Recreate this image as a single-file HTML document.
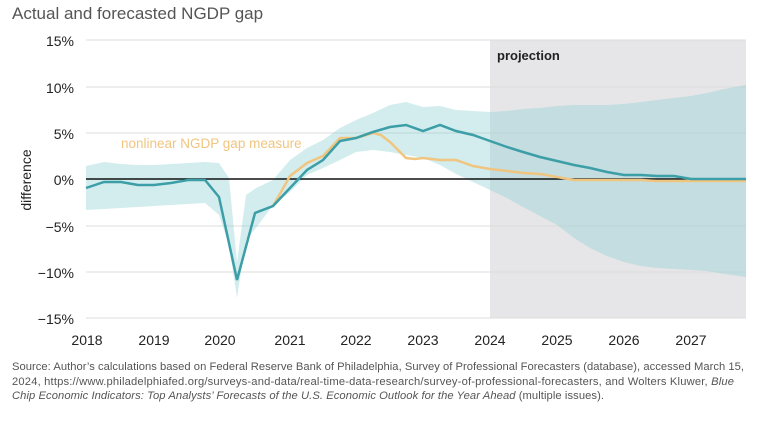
<!DOCTYPE html>
<html><head><meta charset="utf-8"><style>
body{margin:0;background:#fff;width:768px;height:417px;overflow:hidden;font-family:"Liberation Sans",sans-serif}
</style></head><body>
<svg width="768" height="417" xmlns="http://www.w3.org/2000/svg" font-family="Liberation Sans, sans-serif">
<text x="12" y="19" font-size="17" fill="#555">Actual and forecasted NGDP gap</text>
<rect x="490" y="40" width="256" height="278" fill="#e6e6e8"/>
<g stroke="#dcdcdc" stroke-width="1">
<line x1="86" y1="40" x2="746" y2="40"/><line x1="86" y1="87" x2="746" y2="87"/><line x1="86" y1="133" x2="746" y2="133"/>
<line x1="86" y1="226" x2="746" y2="226"/><line x1="86" y1="272" x2="746" y2="272"/><line x1="86" y1="318" x2="746" y2="318"/>
</g>
<polygon fill="#8ccfd2" fill-opacity="0.38" points="86,166 104,162 121,164 138,165 154,165 171,164 188,163 205,162 219,163 229,178 237,262 246,195 256,188 273,180 290,160 307,148 323,140 340,128 356,120 373,113 390,105 406,102 423,107 440,106 456,110 473,111 490,112 507,111 523,109 540,108 557,106 574,105 590,105 607,105 624,104 641,102 657,100 674,98 691,96 707,93 724,89 746,85 746,277 724,274 707,271 691,270 674,269 657,268 641,266 624,262 607,256 590,248 574,238 557,225 540,216 523,207 507,198 490,190 473,182 456,174 440,165 423,158 406,155 390,152 373,150 356,152 340,160 323,168 307,175 290,192 273,205 256,228 246,240 237,298 229,245 219,215 205,203 188,204 171,205 154,206 138,207 121,208 104,209 86,210"/>
<line x1="86" y1="179" x2="746" y2="179" stroke="#111" stroke-width="1.5"/>
<polyline fill="none" stroke="#f0c57f" stroke-width="2.5" points="273,206 281,192 290,176 307,163 323,156 340,138 356,138 373,133 381,135 390,142 406,158 415,159 423,158 440,160 456,160 473,166 490,169 507,171 523,173 540,174 557,177 574,180 590,180 607,180 624,180 641,180 657,181 674,181 691,181 707,181 724,181 746,181"/>
<polyline fill="none" stroke="#3c9ea6" stroke-width="2.5" points="86,188 104,182 121,182 138,185 154,185 171,183 188,180 205,180 219,197 237,280 255,213 273,206 290,188 307,170 323,160 340,141 356,138 373,132 390,127 406,125 423,131 440,125 456,131 473,135 490,141 507,147 523,152 540,157 557,161 574,165 590,168 607,172 624,175 641,175 657,176 674,176 691,179 707,179 724,179 746,179"/>
<text x="497" y="60" font-size="13" font-weight="bold" fill="#222">projection</text>
<text x="121" y="148" font-size="13.5" fill="#f0c57f">nonlinear NGDP gap measure</text>
<g font-size="14" fill="#222" text-anchor="end">
<text x="74" y="46">15%</text><text x="74" y="93">10%</text><text x="74" y="139">5%</text><text x="74" y="185">0%</text>
<text x="74" y="232">−5%</text><text x="74" y="278">−10%</text><text x="74" y="324">−15%</text>
</g>
<text transform="translate(31,180) rotate(-90)" font-size="14" fill="#222" text-anchor="middle">difference</text>
<g font-size="14" fill="#222" text-anchor="middle">
<text x="87" y="345">2018</text><text x="154" y="345">2019</text><text x="220" y="345">2020</text><text x="290" y="345">2021</text>
<text x="356" y="345">2022</text><text x="423" y="345">2023</text><text x="490" y="345">2024</text><text x="557" y="345">2025</text>
<text x="624" y="345">2026</text><text x="691" y="345">2027</text>
</g>
<g font-size="11.2" fill="#555">
<text x="12" y="370" textLength="732">Source: Author’s calculations based on Federal Reserve Bank of Philadelphia, Survey of Professional Forecasters (database), accessed March 15,</text>
<text x="12" y="385" textLength="722">2024, https://www.philadelphiafed.org/surveys-and-data/real-time-data-research/survey-of-professional-forecasters, and Wolters Kluwer, <tspan font-style="italic">Blue</tspan></text>
<text x="12" y="399" textLength="592"><tspan font-style="italic">Chip Economic Indicators: Top Analysts’ Forecasts of the U.S. Economic Outlook for the Year Ahead</tspan> (multiple issues).</text>
</g>
</svg>
</body></html>
